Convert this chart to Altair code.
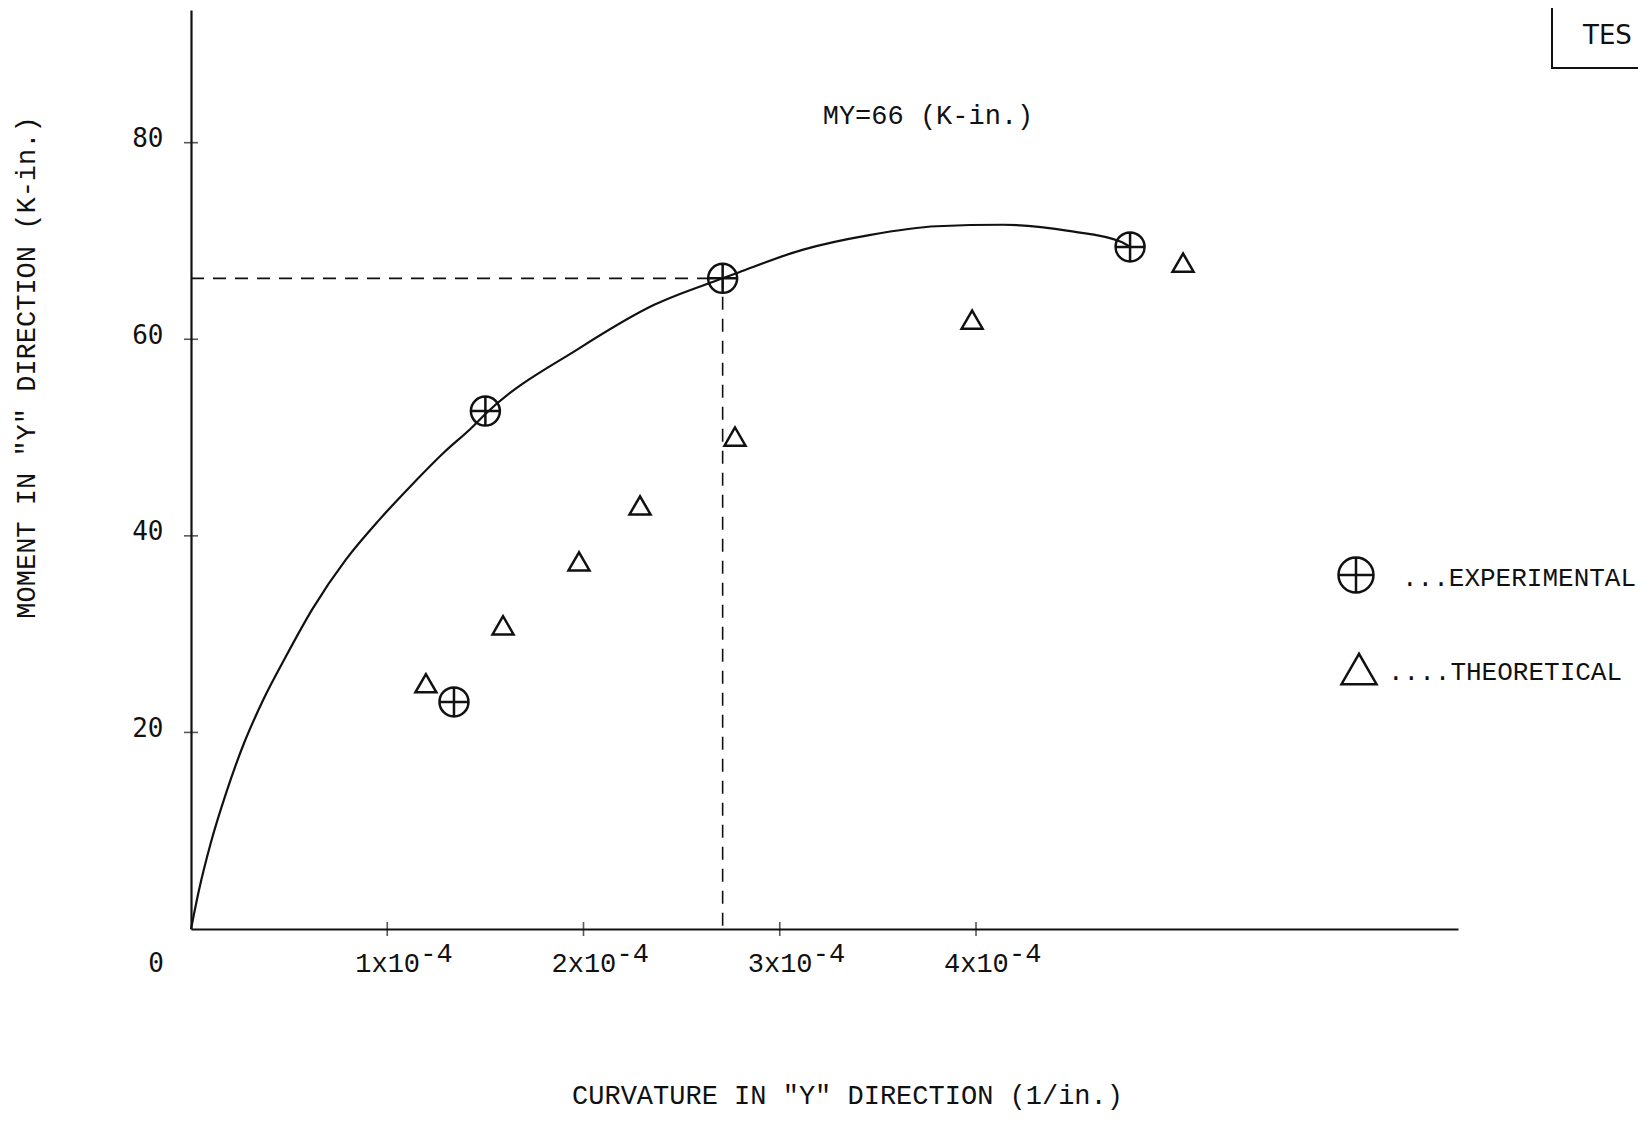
import altair as alt
import pandas as pd

# ---------------- data (curvature in units of 1e-4 1/in., moment in K-in.) ----------------
exp_x = [1.34, 1.50, 2.709, 4.785]
exp_y = [23.1, 52.7, 66.2, 69.4]

theo_x = [1.197, 1.590, 1.977, 2.288, 2.772, 3.980, 5.055]
theo_y = [25.0, 30.9, 37.4, 43.1, 50.1, 62.0, 67.8]

curve_x = [0, 0.04, 0.10, 0.18, 0.27, 0.37, 0.48, 0.62, 0.79, 0.958, 1.126, 1.29,
           1.43, 1.50, 1.98, 2.36, 2.709, 2.79, 3.115, 3.456, 3.80, 4.14, 4.48, 4.735, 4.785]
curve_y = [0, 3.9, 8.7, 13.9, 18.9, 23.4, 27.6, 32.6, 37.6, 41.6, 45.2, 48.5,
           51.0, 52.4, 59.1, 63.5, 66.2, 66.8, 69.1, 70.6, 71.5, 71.65, 71.0, 69.95, 69.4]

my_x = [0, 2.709, 2.709]
my_y = [66.2, 66.2, 0]

x_tick_values = [1, 2, 3, 4]
x_tick_base = ["1x10", "2x10", "3x10", "4x10"]
x_tick_sup = ["-4", "-4", "-4", "-4"]
y_tick_values = [20, 40, 60, 80]

x_title = 'CURVATURE IN "Y" DIRECTION (1/in.)'
y_title = 'MOMENT IN "Y" DIRECTION   (K-in.)'
annotation = ["MY=66  (K-in.)"]
legend_labels = ["...EXPERIMENTAL", "....THEORETICAL"]
corner_label = ["TES"]

# ---------------- styling ----------------
W, H = 1267, 919
INK = "#111111"
MONO = "Liberation Mono"
DIG = "DejaVu Sans Mono"
CIRCLE_PLUS = "M-1,0A1,1 0 1,1 1,0A1,1 0 1,1 -1,0Z M-1,0L1,0 M0,-1L0,1"

xs = alt.Scale(domain=[0, 6.456], nice=False, zero=False)
ys = alt.Scale(domain=[0, 93.5], nice=False, zero=False)

x_axis = alt.Axis(
    title=x_title, grid=False, ticks=False, tickSize=0, labels=False,
    domainColor=INK, domainWidth=2.2,
    titleFont=MONO, titleFontSize=27, titleFontWeight="normal", titleColor=INK,
    titleX=656, titleY=166, titleAlign="center", titleBaseline="middle",
)
y_axis = alt.Axis(
    title=y_title, grid=False, ticks=False, tickSize=0, values=y_tick_values,
    domainColor=INK, domainWidth=2.2,
    labelFont=DIG, labelFontSize=26, labelColor=INK, labelPadding=28, labelOffset=-4,
    labelBaseline="middle",
    titleFont=MONO, titleFontSize=27, titleFontWeight="normal", titleColor=INK,
    titleX=-165, titleY=357, titleAlign="center", titleBaseline="middle", titleAngle=270,
)

curve_df = pd.DataFrame({"x": curve_x, "y": curve_y, "o": list(range(len(curve_x)))})
curve = alt.Chart(curve_df).mark_line(
    color=INK, strokeWidth=2.2, interpolate="monotone"
).encode(
    x=alt.X("x:Q", scale=xs, axis=x_axis),
    y=alt.Y("y:Q", scale=ys, axis=y_axis),
    order="o:Q",
)

dash_df = pd.DataFrame({"x": my_x, "y": my_y, "o": [0, 1, 2]})
dashed = alt.Chart(dash_df).mark_line(
    color=INK, strokeWidth=1.6, strokeDash=[13, 9]
).encode(
    x=alt.X("x:Q", scale=xs), y=alt.Y("y:Q", scale=ys), order="o:Q"
)

xt_df = pd.DataFrame({"x": x_tick_values, "y": [0] * 4, "base": x_tick_base, "sup": x_tick_sup})
x_ticks = alt.Chart(xt_df).mark_tick(orient="vertical", size=14, thickness=1.6, color=INK).encode(
    x=alt.X("x:Q", scale=xs), y=alt.Y("y:Q", scale=ys)
)
x_lab = alt.Chart(xt_df).mark_text(
    align="left", baseline="alphabetic", dx=-32, dy=43, font=MONO, fontSize=27, color=INK
).encode(x=alt.X("x:Q", scale=xs), y=alt.Y("y:Q", scale=ys), text="base:N")
x_sup = alt.Chart(xt_df).mark_text(
    align="left", baseline="alphabetic", dx=33, dy=33, font=MONO, fontSize=27, color=INK
).encode(x=alt.X("x:Q", scale=xs), y=alt.Y("y:Q", scale=ys), text="sup:N")

zero_df = pd.DataFrame({"x": [0], "y": [0], "t": ["0"]})
zero_lab = alt.Chart(zero_df).mark_text(
    align="center", baseline="alphabetic", dx=-35, dy=43, font=DIG, fontSize=26, color=INK
).encode(x=alt.X("x:Q", scale=xs), y=alt.Y("y:Q", scale=ys), text="t:N")

yt_df = pd.DataFrame({"x": [0] * 4, "y": y_tick_values})
y_ticks = alt.Chart(yt_df).mark_tick(orient="horizontal", size=14, thickness=1.6, color=INK).encode(
    x=alt.X("x:Q", scale=xs), y=alt.Y("y:Q", scale=ys)
)

exp_df = pd.DataFrame({"x": exp_x, "y": exp_y})
exp_pts = alt.Chart(exp_df).mark_point(
    shape=CIRCLE_PLUS, size=841, filled=False, strokeWidth=2.5, color=INK, opacity=1
).encode(x=alt.X("x:Q", scale=xs), y=alt.Y("y:Q", scale=ys))

theo_df = pd.DataFrame({"x": theo_x, "y": theo_y})
theo_pts = alt.Chart(theo_df).mark_point(
    shape="triangle-up", size=441, filled=False, strokeWidth=2.5, color=INK, opacity=1
).encode(x=alt.X("x:Q", scale=xs), y=alt.Y("y:Q", scale=ys))

# ---------------- annotations / hand-drawn legend ----------------
ann = alt.Chart(pd.DataFrame({"t": annotation})).mark_text(
    font=MONO, fontSize=27, color=INK, align="center", baseline="middle"
).encode(x=alt.value(737), y=alt.value(106), text="t:N")

leg_df = pd.DataFrame({"t": legend_labels})
leg_sym1 = alt.Chart(leg_df.iloc[[0]]).mark_point(
    shape=CIRCLE_PLUS, size=1225, filled=False, strokeWidth=2.5, color=INK, opacity=1
).encode(x=alt.value(1165), y=alt.value(565))
leg_txt1 = alt.Chart(leg_df.iloc[[0]]).mark_text(
    font=MONO, fontSize=26, color=INK, align="left", baseline="middle"
).encode(x=alt.value(1211), y=alt.value(568), text="t:N")
leg_sym2 = alt.Chart(leg_df.iloc[[1]]).mark_point(
    shape="triangle-up", size=1225, filled=False, strokeWidth=2.5, color=INK, opacity=1
).encode(x=alt.value(1168), y=alt.value(659))
leg_txt2 = alt.Chart(leg_df.iloc[[1]]).mark_text(
    font=MONO, fontSize=26, color=INK, align="left", baseline="middle"
).encode(x=alt.value(1197), y=alt.value(662), text="t:N")

corner_df = pd.DataFrame({"t": corner_label})
corner_box = alt.Chart(corner_df).mark_rect(
    fill="white", fillOpacity=0, stroke=INK, strokeWidth=2
).encode(x=alt.value(1361), x2=alt.value(1530), y=alt.value(-30), y2=alt.value(58))
corner_txt = alt.Chart(corner_df).mark_text(
    font="DejaVu Sans", fontSize=26, color=INK, align="left", baseline="middle"
).encode(x=alt.value(1392), y=alt.value(26), text="t:N")

chart = alt.layer(
    curve, dashed, x_ticks, y_ticks, x_lab, x_sup, zero_lab, exp_pts, theo_pts,
    ann, leg_sym1, leg_txt1, leg_sym2, leg_txt2, corner_box, corner_txt,
).properties(
    width=W, height=H,
    autosize=alt.AutoSizeParams(type="none"),
    padding={"left": 183, "top": 2, "right": 180, "bottom": 186},
    background="white",
).configure_view(stroke=None)

chart.save("out.html", embed_options={"renderer": "svg", "actions": False})
